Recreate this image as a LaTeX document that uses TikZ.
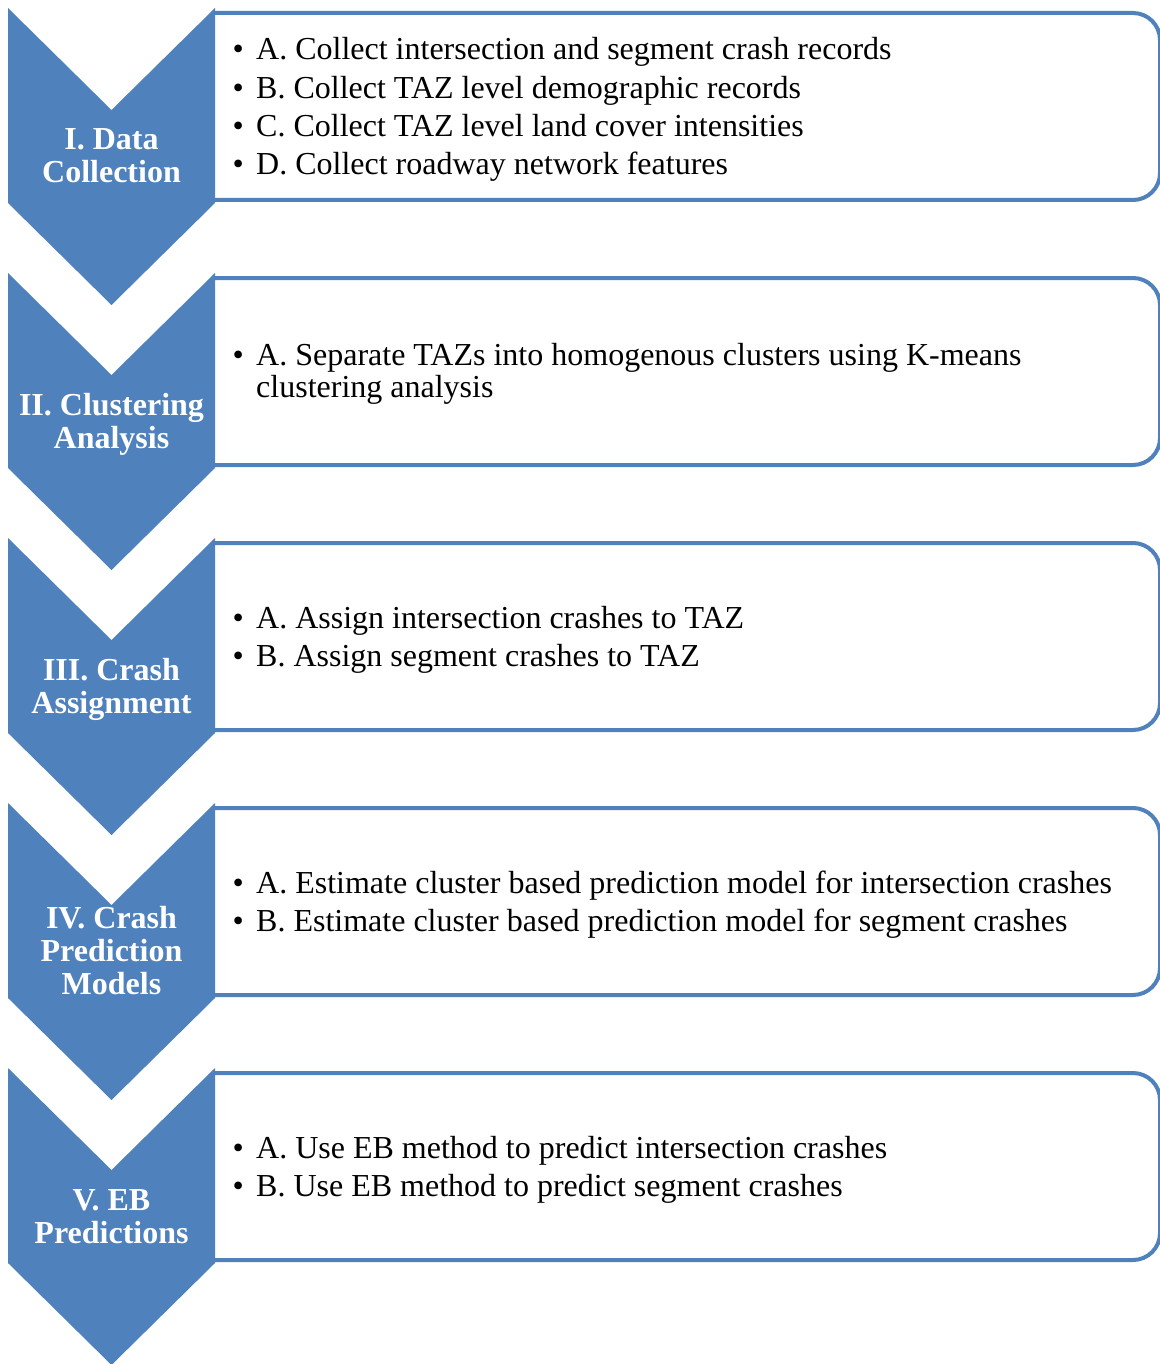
\documentclass[tikz,border=0pt]{standalone}
\usepackage{fontspec}
\setmainfont{Liberation Serif}
\definecolor{chev}{HTML}{4F81BD}
\newcommand\bul{\makebox[23.5pt][l]{\textbullet}}
\begin{document}
\begin{tikzpicture}[x=1pt,y=-1pt,
  chevfill/.style={fill=chev,draw=none},
  boxline/.style={draw=chev,line width=4pt,fill=white,rounded corners=27pt},
  item/.style={anchor=base west,inner sep=0pt,font=\fontsize{32}{38}\selectfont},
  lab/.style={anchor=base,inner sep=0pt,text=white,font=\fontsize{32}{33}\selectfont\bfseries}]
\useasboundingbox (0,0) rectangle (1159,1364);
\foreach \k in {0,...,4}{
  \pgfmathsetmacro\T{8+265*\k}
  \path[boxline] (215,\T+5) -- (1160,\T+5) -- (1160,\T+192) -- (215,\T+192);
  \fill[chevfill] (8,\T) -- (111.5,\T+102) -- (215,\T) -- (215,\T+195) -- (111.5,\T+297) -- (8,\T+195) -- cycle;
}
% labels
\node[lab] (l1a) at (111.5,150) {I. Data};
\node[lab] (l1b) at (111.5,183) {Collection};
\node[lab] (l2a) at (111.5,415) {II. Clustering};
\node[lab] (l2b) at (111.5,448) {Analysis};
\node[lab] (l3a) at (111.5,680) {III. Crash};
\node[lab] (l3b) at (111.5,713) {Assignment};
\node[lab] (l4a) at (111.5,928.5) {IV. Crash};
\node[lab] (l4b) at (111.5,961.5) {Prediction};
\node[lab] (l4c) at (111.5,994.5) {Models};
\node[lab] (l5a) at (111.5,1210) {V. EB};
\node[lab] (l5b) at (111.5,1243) {Predictions};
% items
\node[item] (i1a) at (232.5,60) {\bul A. Collect intersection and segment crash records};
\node[item] (i1b) at (232.5,98.3) {\bul B. Collect TAZ level demographic records};
\node[item] (i1c) at (232.5,136.6) {\bul C. Collect TAZ level land cover intensities};
\node[item] (i1d) at (232.5,174.9) {\bul D. Collect roadway network features};
\node[item] (i2a) at (232.5,365) {\bul A. Separate TAZs into homogenous clusters using K-means};
\node[item] (i2b) at (256,397) {clustering analysis};
\node[item] (i3a) at (232.5,628.25) {\bul A. Assign intersection crashes to TAZ};
\node[item] (i3b) at (232.5,666.75) {\bul B. Assign segment crashes to TAZ};
\node[item] (i4a) at (232.5,893.25) {\bul A. Estimate cluster based prediction model for intersection crashes};
\node[item] (i4b) at (232.5,931.75) {\bul B. Estimate cluster based prediction model for segment crashes};
\node[item] (i5a) at (232.5,1158.25) {\bul A. Use EB method to predict intersection crashes};
\node[item] (i5b) at (232.5,1196.75) {\bul B. Use EB method to predict segment crashes};
\end{tikzpicture}
\end{document}
